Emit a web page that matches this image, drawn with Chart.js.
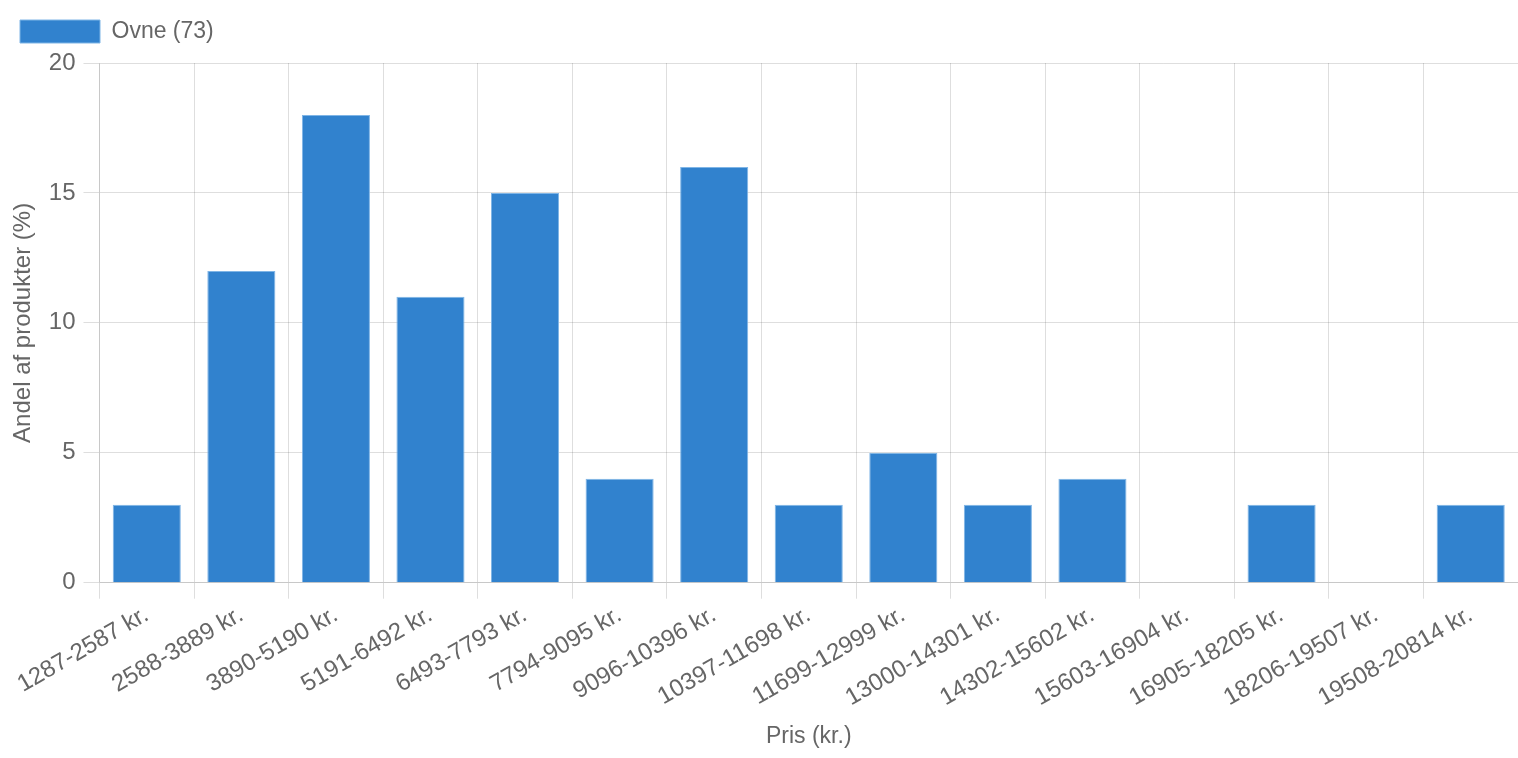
<!DOCTYPE html>
<html>
<head>
<meta charset="utf-8">
<script src="https://cdn.jsdelivr.net/npm/chart.js@4/dist/chart.umd.min.js"></script>
<style>
  html, body { margin: 0; padding: 0; background: #fff; }
  #wrap { width: 1518px; height: 758px; }
</style>
</head>
<body>
<div id="wrap"><canvas id="prisChart"></canvas></div>
<script>
const kategorier = ['1287-2587 kr.', '2588-3889 kr.', '3890-5190 kr.', '5191-6492 kr.', '6493-7793 kr.',
  '7794-9095 kr.', '9096-10396 kr.', '10397-11698 kr.', '11699-12999 kr.', '13000-14301 kr.',
  '14302-15602 kr.', '15603-16904 kr.', '16905-18205 kr.', '18206-19507 kr.', '19508-20814 kr.'];
const andele = [3, 12, 18, 11, 15, 4, 16, 3, 5, 3, 4, 0, 3, 0, 3];
const serieNavn = 'Ovne (73)';
const yTicks = [0, 5, 10, 15, 20];

Chart.defaults.font.family = '"Liberation Sans", Arial, Helvetica, sans-serif';
Chart.defaults.font.size = 23;
Chart.defaults.color = '#666';

const ctx = document.getElementById('prisChart').getContext('2d');
new Chart(ctx, {
  type: 'bar',
  data: {
    labels: kategorier,
    datasets: [{
      label: serieNavn,
      data: andele,
      backgroundColor: '#3182CE',
      borderColor: '#7FB5E6',
      borderWidth: 1
    }]
  },
  options: {
    responsive: true,
    maintainAspectRatio: false,
    animation: false,
    plugins: {
      legend: {
        align: 'start',
        labels: { boxWidth: 80, boxHeight: 23, padding: 20 }
      },
      tooltip: { enabled: false }
    },
    scales: {
      x: {
        grid: { offset: true, tickLength: 16, color: 'rgba(0,0,0,0.13)' },
        ticks: { minRotation: 30, maxRotation: 30, padding: 2, font: { size: 24 } },
        title: { display: true, text: 'Pris (kr.)', padding: { top: 8, bottom: 8 } }
      },
      y: {
        min: 0,
        max: 20,
        afterBuildTicks: axis => { axis.ticks = yTicks.map(v => ({ value: v })); },
        grid: { tickLength: 16, color: 'rgba(0,0,0,0.13)' },
        ticks: { padding: 8, font: { size: 24 } },
        title: { display: true, text: 'Andel af produkter (%)', font: { size: 24 }, padding: { top: 9, bottom: 3 } }
      }
    }
  },
  plugins: [{
    id: 'legendSpacing',
    beforeInit(chart) {
      const origFit = chart.legend.fit;
      chart.legend.fit = function () {
        origFit.bind(chart.legend)();
        this.height += 10;
      };
    }
  }]
});
</script>
</body>
</html>
